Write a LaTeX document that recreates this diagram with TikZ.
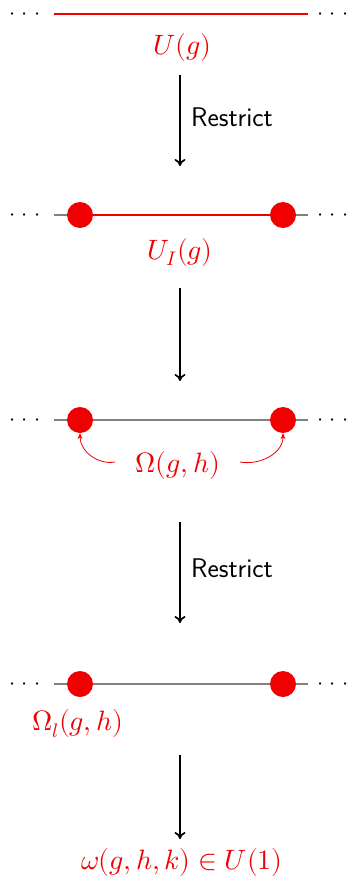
\documentclass[tikz,border=0pt]{standalone}
\usepackage{unicode-math}
\setmathfont{Latin Modern Math}
\usetikzlibrary{arrows.meta}
\definecolor{myred}{RGB}{240,0,0}
\newcommand{\mydots}{$\cdotp\mkern1mu\cdotp\mkern1mu\cdotp$}
\begin{document}
\begin{tikzpicture}[x=1pt,y=-1pt,
  dotsnode/.style={inner sep=0pt,anchor=base,yshift=-5.5pt,font=\fontsize{22}{26}\selectfont},
  site/.style={circle,fill=myred,minimum size=26pt,inner sep=0pt},
  greyline/.style={draw=gray,line width=1.3pt},
  redline/.style={draw=myred,line width=2.6pt},
  mathlbl/.style={text=myred,inner sep=0pt,font=\fontsize{28}{30}\selectfont},
  mainarrow/.style={-{To[length=7pt,width=11pt]},line width=1.7pt},
  lbl/.style={inner sep=0pt,anchor=west,font=\sffamily\fontsize{27}{30}\selectfont},
  curvearrow/.style={draw=myred,line width=0.8pt,-{Stealth[length=6pt,width=5pt]}}]
\useasboundingbox (0,0) rectangle (348,881);
% Row 1
\node[dotsnode] (l1) at (25,14) {\mydots};
\node[dotsnode] (r1) at (333,14) {\mydots};
\coordinate (a1) at (54,14);
\coordinate (b1) at (308,14);
\draw[redline] (a1) -- (b1);
\node[mathlbl] (t1) at (182,47) {$U(g)$};
\coordinate (s1) at (180,75);
\coordinate (e1) at (180,166);
\draw[mainarrow] (s1) -- (e1);
\node[lbl] (res1) at (191,117) {Restrict};
% Row 2
\node[dotsnode] (l2) at (25,215) {\mydots};
\node[dotsnode] (r2) at (333,215) {\mydots};
\coordinate (a2) at (54,215);
\coordinate (b2) at (308,215);
\draw[greyline] (a2) -- (b2);
\node[site] (p2) at (80,215) {};
\node[site] (q2) at (283,215) {};
\draw[redline] (p2) -- (q2);
\node[mathlbl] (t2) at (180,252) {$U_I(g)$};
\coordinate (s2) at (180,288);
\coordinate (e2) at (180,381);
\draw[mainarrow] (s2) -- (e2);
% Row 3
\node[dotsnode] (l3) at (25,420) {\mydots};
\node[dotsnode] (r3) at (333,420) {\mydots};
\coordinate (a3) at (54,420);
\coordinate (b3) at (308,420);
\draw[greyline] (a3) -- (b3);
\node[site] (p3) at (80,420) {};
\node[site] (q3) at (283,420) {};
\node[mathlbl] (t3) at (178,465) {$\Omega(g,h)$};
\coordinate (c3l) at (115,462);
\coordinate (c3r) at (240,462);
\draw[curvearrow] (c3l) to[out=190,in=-90] (p3.south);
\draw[curvearrow] (c3r) to[out=-10,in=-90] (q3.south);
\coordinate (s3) at (180,522);
\coordinate (e3) at (180,623);
\draw[mainarrow] (s3) -- (e3);
\node[lbl] (res3) at (191,568) {Restrict};
% Row 4
\node[dotsnode] (l4) at (25,684) {\mydots};
\node[dotsnode] (r4) at (333,684) {\mydots};
\coordinate (a4) at (54,684);
\coordinate (b4) at (308,684);
\draw[greyline] (a4) -- (b4);
\node[site] (p4) at (80,684) {};
\node[site] (q4) at (283,684) {};
\node[mathlbl] (t4) at (78,724) {$\Omega_l(g,h)$};
\coordinate (s4) at (180,755);
\coordinate (e4) at (180,839);
\draw[mainarrow] (s4) -- (e4);
\node[mathlbl] (t5) at (182,862) {$\omega(g,h,k)\in U(1)$};
\end{tikzpicture}
\end{document}
